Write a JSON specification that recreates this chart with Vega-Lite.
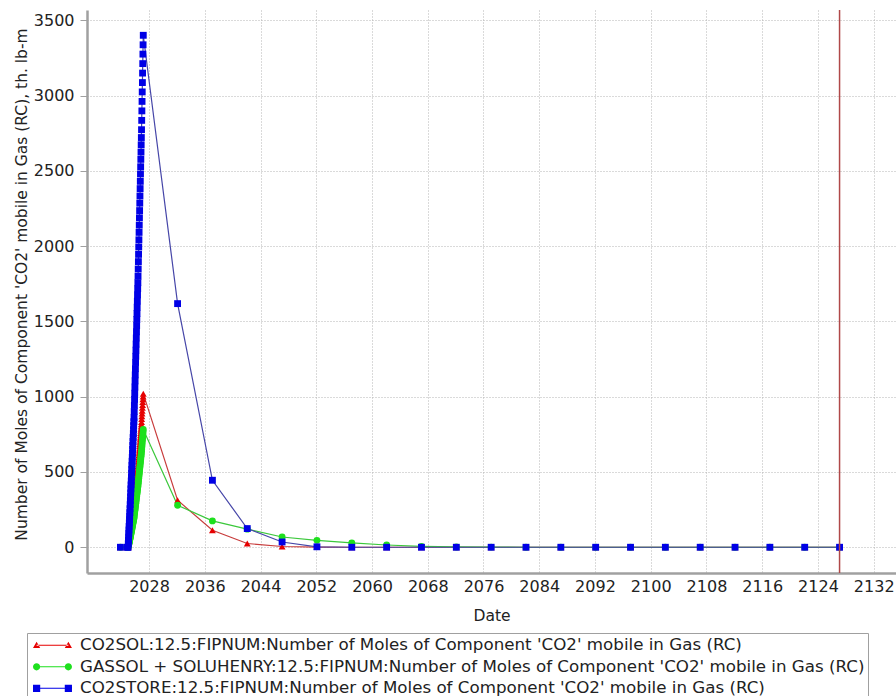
{
  "$schema": "https://vega.github.io/schema/vega-lite/v6.json",
  "width": 809,
  "height": 563,
  "autosize": {"type": "none"},
  "padding": {"left": 87, "top": 10, "right": 0, "bottom": 123},
  "background": "white",
  "config": {
    "view": {"stroke": null},
    "font": "DejaVu Sans",
    "axis": {
      "grid": true,
      "gridColor": "#b4b4b4",
      "gridDash": [1, 2],
      "gridWidth": 1,
      "domainColor": "#a0a0a0",
      "domainWidth": 2.5,
      "tickColor": "#a0a0a0",
      "labelFont": "DejaVu Sans",
      "labelFontSize": 16,
      "labelColor": "#222222",
      "titleFont": "DejaVu Sans",
      "titleFontSize": 15.5,
      "titleFontWeight": "normal",
      "titleColor": "#222222"
    }
  },
  "datasets": {
    "series": [
      {"s": "CO2SOL", "t": 2023.9, "v": 0},
      {"s": "CO2SOL", "t": 2024.9, "v": 0},
      {"s": "CO2SOL", "t": 2025.0, "v": 0},
      {"s": "CO2SOL", "t": 2025.025, "v": 7},
      {"s": "CO2SOL", "t": 2025.05, "v": 14},
      {"s": "CO2SOL", "t": 2025.075, "v": 21},
      {"s": "CO2SOL", "t": 2025.1, "v": 28},
      {"s": "CO2SOL", "t": 2025.125, "v": 35},
      {"s": "CO2SOL", "t": 2025.15, "v": 41},
      {"s": "CO2SOL", "t": 2025.175, "v": 48},
      {"s": "CO2SOL", "t": 2025.2, "v": 55},
      {"s": "CO2SOL", "t": 2025.225, "v": 62},
      {"s": "CO2SOL", "t": 2025.25, "v": 69},
      {"s": "CO2SOL", "t": 2025.275, "v": 77},
      {"s": "CO2SOL", "t": 2025.3, "v": 85},
      {"s": "CO2SOL", "t": 2025.325, "v": 93},
      {"s": "CO2SOL", "t": 2025.35, "v": 101},
      {"s": "CO2SOL", "t": 2025.375, "v": 108},
      {"s": "CO2SOL", "t": 2025.4, "v": 116},
      {"s": "CO2SOL", "t": 2025.425, "v": 124},
      {"s": "CO2SOL", "t": 2025.45, "v": 132},
      {"s": "CO2SOL", "t": 2025.475, "v": 140},
      {"s": "CO2SOL", "t": 2025.5, "v": 148},
      {"s": "CO2SOL", "t": 2025.525, "v": 156},
      {"s": "CO2SOL", "t": 2025.55, "v": 164},
      {"s": "CO2SOL", "t": 2025.575, "v": 171},
      {"s": "CO2SOL", "t": 2025.6, "v": 179},
      {"s": "CO2SOL", "t": 2025.625, "v": 187},
      {"s": "CO2SOL", "t": 2025.65, "v": 195},
      {"s": "CO2SOL", "t": 2025.675, "v": 203},
      {"s": "CO2SOL", "t": 2025.7, "v": 211},
      {"s": "CO2SOL", "t": 2025.725, "v": 219},
      {"s": "CO2SOL", "t": 2025.75, "v": 227},
      {"s": "CO2SOL", "t": 2025.775, "v": 234},
      {"s": "CO2SOL", "t": 2025.8, "v": 242},
      {"s": "CO2SOL", "t": 2025.825, "v": 250},
      {"s": "CO2SOL", "t": 2025.85, "v": 258},
      {"s": "CO2SOL", "t": 2025.875, "v": 270},
      {"s": "CO2SOL", "t": 2025.9, "v": 283},
      {"s": "CO2SOL", "t": 2025.925, "v": 295},
      {"s": "CO2SOL", "t": 2025.95, "v": 307},
      {"s": "CO2SOL", "t": 2025.975, "v": 319},
      {"s": "CO2SOL", "t": 2026.0, "v": 332},
      {"s": "CO2SOL", "t": 2026.025, "v": 344},
      {"s": "CO2SOL", "t": 2026.05, "v": 356},
      {"s": "CO2SOL", "t": 2026.075, "v": 368},
      {"s": "CO2SOL", "t": 2026.1, "v": 380},
      {"s": "CO2SOL", "t": 2026.125, "v": 393},
      {"s": "CO2SOL", "t": 2026.15, "v": 405},
      {"s": "CO2SOL", "t": 2026.175, "v": 417},
      {"s": "CO2SOL", "t": 2026.2, "v": 429},
      {"s": "CO2SOL", "t": 2026.225, "v": 442},
      {"s": "CO2SOL", "t": 2026.25, "v": 454},
      {"s": "CO2SOL", "t": 2026.275, "v": 466},
      {"s": "CO2SOL", "t": 2026.3, "v": 478},
      {"s": "CO2SOL", "t": 2026.325, "v": 491},
      {"s": "CO2SOL", "t": 2026.35, "v": 503},
      {"s": "CO2SOL", "t": 2026.375, "v": 515},
      {"s": "CO2SOL", "t": 2026.4, "v": 527},
      {"s": "CO2SOL", "t": 2026.425, "v": 540},
      {"s": "CO2SOL", "t": 2026.45, "v": 554},
      {"s": "CO2SOL", "t": 2026.475, "v": 569},
      {"s": "CO2SOL", "t": 2026.5, "v": 584},
      {"s": "CO2SOL", "t": 2026.525, "v": 598},
      {"s": "CO2SOL", "t": 2026.55, "v": 613},
      {"s": "CO2SOL", "t": 2026.575, "v": 627},
      {"s": "CO2SOL", "t": 2026.6, "v": 642},
      {"s": "CO2SOL", "t": 2026.625, "v": 656},
      {"s": "CO2SOL", "t": 2026.65, "v": 671},
      {"s": "CO2SOL", "t": 2026.675, "v": 686},
      {"s": "CO2SOL", "t": 2026.7, "v": 700},
      {"s": "CO2SOL", "t": 2026.725, "v": 715},
      {"s": "CO2SOL", "t": 2026.75, "v": 729},
      {"s": "CO2SOL", "t": 2026.775, "v": 744},
      {"s": "CO2SOL", "t": 2026.8, "v": 758},
      {"s": "CO2SOL", "t": 2026.825, "v": 773},
      {"s": "CO2SOL", "t": 2026.85, "v": 787},
      {"s": "CO2SOL", "t": 2026.875, "v": 802},
      {"s": "CO2SOL", "t": 2026.9, "v": 816},
      {"s": "CO2SOL", "t": 2026.925, "v": 832},
      {"s": "CO2SOL", "t": 2026.95, "v": 851},
      {"s": "CO2SOL", "t": 2026.975, "v": 869},
      {"s": "CO2SOL", "t": 2027.0, "v": 888},
      {"s": "CO2SOL", "t": 2027.025, "v": 907},
      {"s": "CO2SOL", "t": 2027.05, "v": 926},
      {"s": "CO2SOL", "t": 2027.075, "v": 945},
      {"s": "CO2SOL", "t": 2027.1, "v": 964},
      {"s": "CO2SOL", "t": 2027.125, "v": 983},
      {"s": "CO2SOL", "t": 2027.15, "v": 1001},
      {"s": "CO2SOL", "t": 2027.175, "v": 1020},
      {"s": "CO2SOL", "t": 2032.1, "v": 312},
      {"s": "CO2SOL", "t": 2037.1, "v": 113},
      {"s": "CO2SOL", "t": 2042.1, "v": 25},
      {"s": "CO2SOL", "t": 2047.1, "v": 5},
      {"s": "CO2SOL", "t": 2052.1, "v": 1},
      {"s": "CO2SOL", "t": 2057.1, "v": 0},
      {"s": "CO2SOL", "t": 2062.1, "v": 0},
      {"s": "CO2SOL", "t": 2067.1, "v": 0},
      {"s": "CO2SOL", "t": 2072.1, "v": 0},
      {"s": "CO2SOL", "t": 2077.1, "v": 0},
      {"s": "CO2SOL", "t": 2082.1, "v": 0},
      {"s": "CO2SOL", "t": 2087.1, "v": 0},
      {"s": "CO2SOL", "t": 2092.1, "v": 0},
      {"s": "CO2SOL", "t": 2097.1, "v": 0},
      {"s": "CO2SOL", "t": 2102.1, "v": 0},
      {"s": "CO2SOL", "t": 2107.1, "v": 0},
      {"s": "CO2SOL", "t": 2112.1, "v": 0},
      {"s": "CO2SOL", "t": 2117.1, "v": 0},
      {"s": "CO2SOL", "t": 2122.1, "v": 0},
      {"s": "CO2SOL", "t": 2127.1, "v": 0},
      {"s": "GASSOL", "t": 2023.9, "v": 0},
      {"s": "GASSOL", "t": 2024.9, "v": 0},
      {"s": "GASSOL", "t": 2025.0, "v": 0},
      {"s": "GASSOL", "t": 2025.025, "v": 5},
      {"s": "GASSOL", "t": 2025.05, "v": 11},
      {"s": "GASSOL", "t": 2025.075, "v": 16},
      {"s": "GASSOL", "t": 2025.1, "v": 21},
      {"s": "GASSOL", "t": 2025.125, "v": 26},
      {"s": "GASSOL", "t": 2025.15, "v": 32},
      {"s": "GASSOL", "t": 2025.175, "v": 37},
      {"s": "GASSOL", "t": 2025.2, "v": 42},
      {"s": "GASSOL", "t": 2025.225, "v": 48},
      {"s": "GASSOL", "t": 2025.25, "v": 53},
      {"s": "GASSOL", "t": 2025.275, "v": 59},
      {"s": "GASSOL", "t": 2025.3, "v": 65},
      {"s": "GASSOL", "t": 2025.325, "v": 71},
      {"s": "GASSOL", "t": 2025.35, "v": 77},
      {"s": "GASSOL", "t": 2025.375, "v": 83},
      {"s": "GASSOL", "t": 2025.4, "v": 89},
      {"s": "GASSOL", "t": 2025.425, "v": 95},
      {"s": "GASSOL", "t": 2025.45, "v": 101},
      {"s": "GASSOL", "t": 2025.475, "v": 107},
      {"s": "GASSOL", "t": 2025.5, "v": 113},
      {"s": "GASSOL", "t": 2025.525, "v": 119},
      {"s": "GASSOL", "t": 2025.55, "v": 125},
      {"s": "GASSOL", "t": 2025.575, "v": 131},
      {"s": "GASSOL", "t": 2025.6, "v": 138},
      {"s": "GASSOL", "t": 2025.625, "v": 144},
      {"s": "GASSOL", "t": 2025.65, "v": 150},
      {"s": "GASSOL", "t": 2025.675, "v": 155},
      {"s": "GASSOL", "t": 2025.7, "v": 162},
      {"s": "GASSOL", "t": 2025.725, "v": 168},
      {"s": "GASSOL", "t": 2025.75, "v": 174},
      {"s": "GASSOL", "t": 2025.775, "v": 180},
      {"s": "GASSOL", "t": 2025.8, "v": 186},
      {"s": "GASSOL", "t": 2025.825, "v": 192},
      {"s": "GASSOL", "t": 2025.85, "v": 198},
      {"s": "GASSOL", "t": 2025.875, "v": 207},
      {"s": "GASSOL", "t": 2025.9, "v": 217},
      {"s": "GASSOL", "t": 2025.925, "v": 226},
      {"s": "GASSOL", "t": 2025.95, "v": 235},
      {"s": "GASSOL", "t": 2025.975, "v": 245},
      {"s": "GASSOL", "t": 2026.0, "v": 254},
      {"s": "GASSOL", "t": 2026.025, "v": 263},
      {"s": "GASSOL", "t": 2026.05, "v": 273},
      {"s": "GASSOL", "t": 2026.075, "v": 282},
      {"s": "GASSOL", "t": 2026.1, "v": 292},
      {"s": "GASSOL", "t": 2026.125, "v": 301},
      {"s": "GASSOL", "t": 2026.15, "v": 310},
      {"s": "GASSOL", "t": 2026.175, "v": 320},
      {"s": "GASSOL", "t": 2026.2, "v": 329},
      {"s": "GASSOL", "t": 2026.225, "v": 339},
      {"s": "GASSOL", "t": 2026.25, "v": 348},
      {"s": "GASSOL", "t": 2026.275, "v": 357},
      {"s": "GASSOL", "t": 2026.3, "v": 367},
      {"s": "GASSOL", "t": 2026.325, "v": 376},
      {"s": "GASSOL", "t": 2026.35, "v": 385},
      {"s": "GASSOL", "t": 2026.375, "v": 395},
      {"s": "GASSOL", "t": 2026.4, "v": 404},
      {"s": "GASSOL", "t": 2026.425, "v": 414},
      {"s": "GASSOL", "t": 2026.45, "v": 425},
      {"s": "GASSOL", "t": 2026.475, "v": 436},
      {"s": "GASSOL", "t": 2026.5, "v": 447},
      {"s": "GASSOL", "t": 2026.525, "v": 459},
      {"s": "GASSOL", "t": 2026.55, "v": 470},
      {"s": "GASSOL", "t": 2026.575, "v": 481},
      {"s": "GASSOL", "t": 2026.6, "v": 492},
      {"s": "GASSOL", "t": 2026.625, "v": 503},
      {"s": "GASSOL", "t": 2026.65, "v": 514},
      {"s": "GASSOL", "t": 2026.675, "v": 526},
      {"s": "GASSOL", "t": 2026.7, "v": 537},
      {"s": "GASSOL", "t": 2026.725, "v": 548},
      {"s": "GASSOL", "t": 2026.75, "v": 559},
      {"s": "GASSOL", "t": 2026.775, "v": 570},
      {"s": "GASSOL", "t": 2026.8, "v": 581},
      {"s": "GASSOL", "t": 2026.825, "v": 592},
      {"s": "GASSOL", "t": 2026.85, "v": 604},
      {"s": "GASSOL", "t": 2026.875, "v": 615},
      {"s": "GASSOL", "t": 2026.9, "v": 626},
      {"s": "GASSOL", "t": 2026.925, "v": 638},
      {"s": "GASSOL", "t": 2026.95, "v": 652},
      {"s": "GASSOL", "t": 2026.975, "v": 667},
      {"s": "GASSOL", "t": 2027.0, "v": 681},
      {"s": "GASSOL", "t": 2027.025, "v": 696},
      {"s": "GASSOL", "t": 2027.05, "v": 710},
      {"s": "GASSOL", "t": 2027.075, "v": 724},
      {"s": "GASSOL", "t": 2027.1, "v": 739},
      {"s": "GASSOL", "t": 2027.125, "v": 753},
      {"s": "GASSOL", "t": 2027.15, "v": 767},
      {"s": "GASSOL", "t": 2027.175, "v": 782},
      {"s": "GASSOL", "t": 2032.1, "v": 279},
      {"s": "GASSOL", "t": 2037.1, "v": 175},
      {"s": "GASSOL", "t": 2042.1, "v": 120},
      {"s": "GASSOL", "t": 2047.1, "v": 68},
      {"s": "GASSOL", "t": 2052.1, "v": 46},
      {"s": "GASSOL", "t": 2057.1, "v": 29},
      {"s": "GASSOL", "t": 2062.1, "v": 15},
      {"s": "GASSOL", "t": 2067.1, "v": 6},
      {"s": "GASSOL", "t": 2072.1, "v": 2},
      {"s": "GASSOL", "t": 2077.1, "v": 1},
      {"s": "GASSOL", "t": 2082.1, "v": 0},
      {"s": "GASSOL", "t": 2087.1, "v": 0},
      {"s": "GASSOL", "t": 2092.1, "v": 0},
      {"s": "GASSOL", "t": 2097.1, "v": 0},
      {"s": "GASSOL", "t": 2102.1, "v": 0},
      {"s": "GASSOL", "t": 2107.1, "v": 0},
      {"s": "GASSOL", "t": 2112.1, "v": 0},
      {"s": "GASSOL", "t": 2117.1, "v": 0},
      {"s": "GASSOL", "t": 2122.1, "v": 0},
      {"s": "GASSOL", "t": 2127.1, "v": 0},
      {"s": "CO2STORE", "t": 2023.9, "v": 0},
      {"s": "CO2STORE", "t": 2024.9, "v": 0},
      {"s": "CO2STORE", "t": 2025.0, "v": 0},
      {"s": "CO2STORE", "t": 2025.025, "v": 23},
      {"s": "CO2STORE", "t": 2025.05, "v": 46},
      {"s": "CO2STORE", "t": 2025.075, "v": 69},
      {"s": "CO2STORE", "t": 2025.1, "v": 92},
      {"s": "CO2STORE", "t": 2025.125, "v": 115},
      {"s": "CO2STORE", "t": 2025.15, "v": 138},
      {"s": "CO2STORE", "t": 2025.175, "v": 161},
      {"s": "CO2STORE", "t": 2025.2, "v": 184},
      {"s": "CO2STORE", "t": 2025.225, "v": 207},
      {"s": "CO2STORE", "t": 2025.25, "v": 230},
      {"s": "CO2STORE", "t": 2025.275, "v": 256},
      {"s": "CO2STORE", "t": 2025.3, "v": 283},
      {"s": "CO2STORE", "t": 2025.325, "v": 309},
      {"s": "CO2STORE", "t": 2025.35, "v": 335},
      {"s": "CO2STORE", "t": 2025.375, "v": 361},
      {"s": "CO2STORE", "t": 2025.4, "v": 388},
      {"s": "CO2STORE", "t": 2025.425, "v": 414},
      {"s": "CO2STORE", "t": 2025.45, "v": 440},
      {"s": "CO2STORE", "t": 2025.475, "v": 466},
      {"s": "CO2STORE", "t": 2025.5, "v": 493},
      {"s": "CO2STORE", "t": 2025.525, "v": 519},
      {"s": "CO2STORE", "t": 2025.55, "v": 545},
      {"s": "CO2STORE", "t": 2025.575, "v": 571},
      {"s": "CO2STORE", "t": 2025.6, "v": 598},
      {"s": "CO2STORE", "t": 2025.625, "v": 624},
      {"s": "CO2STORE", "t": 2025.65, "v": 650},
      {"s": "CO2STORE", "t": 2025.675, "v": 676},
      {"s": "CO2STORE", "t": 2025.7, "v": 703},
      {"s": "CO2STORE", "t": 2025.725, "v": 729},
      {"s": "CO2STORE", "t": 2025.75, "v": 755},
      {"s": "CO2STORE", "t": 2025.775, "v": 781},
      {"s": "CO2STORE", "t": 2025.8, "v": 808},
      {"s": "CO2STORE", "t": 2025.825, "v": 834},
      {"s": "CO2STORE", "t": 2025.85, "v": 860},
      {"s": "CO2STORE", "t": 2025.875, "v": 901},
      {"s": "CO2STORE", "t": 2025.9, "v": 942},
      {"s": "CO2STORE", "t": 2025.925, "v": 982},
      {"s": "CO2STORE", "t": 2025.95, "v": 1023},
      {"s": "CO2STORE", "t": 2025.975, "v": 1064},
      {"s": "CO2STORE", "t": 2026.0, "v": 1105},
      {"s": "CO2STORE", "t": 2026.025, "v": 1145},
      {"s": "CO2STORE", "t": 2026.05, "v": 1186},
      {"s": "CO2STORE", "t": 2026.075, "v": 1227},
      {"s": "CO2STORE", "t": 2026.1, "v": 1268},
      {"s": "CO2STORE", "t": 2026.125, "v": 1309},
      {"s": "CO2STORE", "t": 2026.15, "v": 1349},
      {"s": "CO2STORE", "t": 2026.175, "v": 1390},
      {"s": "CO2STORE", "t": 2026.2, "v": 1431},
      {"s": "CO2STORE", "t": 2026.225, "v": 1472},
      {"s": "CO2STORE", "t": 2026.25, "v": 1513},
      {"s": "CO2STORE", "t": 2026.275, "v": 1553},
      {"s": "CO2STORE", "t": 2026.3, "v": 1594},
      {"s": "CO2STORE", "t": 2026.325, "v": 1635},
      {"s": "CO2STORE", "t": 2026.35, "v": 1676},
      {"s": "CO2STORE", "t": 2026.375, "v": 1717},
      {"s": "CO2STORE", "t": 2026.4, "v": 1757},
      {"s": "CO2STORE", "t": 2026.425, "v": 1800},
      {"s": "CO2STORE", "t": 2026.45, "v": 1848},
      {"s": "CO2STORE", "t": 2026.475, "v": 1897},
      {"s": "CO2STORE", "t": 2026.5, "v": 1945},
      {"s": "CO2STORE", "t": 2026.525, "v": 1994},
      {"s": "CO2STORE", "t": 2026.55, "v": 2042},
      {"s": "CO2STORE", "t": 2026.575, "v": 2091},
      {"s": "CO2STORE", "t": 2026.6, "v": 2139},
      {"s": "CO2STORE", "t": 2026.625, "v": 2188},
      {"s": "CO2STORE", "t": 2026.65, "v": 2236},
      {"s": "CO2STORE", "t": 2026.675, "v": 2285},
      {"s": "CO2STORE", "t": 2026.7, "v": 2333},
      {"s": "CO2STORE", "t": 2026.725, "v": 2382},
      {"s": "CO2STORE", "t": 2026.75, "v": 2430},
      {"s": "CO2STORE", "t": 2026.775, "v": 2479},
      {"s": "CO2STORE", "t": 2026.8, "v": 2527},
      {"s": "CO2STORE", "t": 2026.825, "v": 2576},
      {"s": "CO2STORE", "t": 2026.85, "v": 2624},
      {"s": "CO2STORE", "t": 2026.875, "v": 2673},
      {"s": "CO2STORE", "t": 2026.9, "v": 2721},
      {"s": "CO2STORE", "t": 2026.925, "v": 2773},
      {"s": "CO2STORE", "t": 2026.95, "v": 2835},
      {"s": "CO2STORE", "t": 2026.975, "v": 2898},
      {"s": "CO2STORE", "t": 2027.0, "v": 2961},
      {"s": "CO2STORE", "t": 2027.025, "v": 3024},
      {"s": "CO2STORE", "t": 2027.05, "v": 3086},
      {"s": "CO2STORE", "t": 2027.075, "v": 3149},
      {"s": "CO2STORE", "t": 2027.1, "v": 3212},
      {"s": "CO2STORE", "t": 2027.125, "v": 3275},
      {"s": "CO2STORE", "t": 2027.15, "v": 3337},
      {"s": "CO2STORE", "t": 2027.175, "v": 3400},
      {"s": "CO2STORE", "t": 2032.1, "v": 1618},
      {"s": "CO2STORE", "t": 2037.1, "v": 445},
      {"s": "CO2STORE", "t": 2042.1, "v": 124},
      {"s": "CO2STORE", "t": 2047.1, "v": 35},
      {"s": "CO2STORE", "t": 2052.1, "v": 3},
      {"s": "CO2STORE", "t": 2057.1, "v": 0},
      {"s": "CO2STORE", "t": 2062.1, "v": 0},
      {"s": "CO2STORE", "t": 2067.1, "v": 0},
      {"s": "CO2STORE", "t": 2072.1, "v": 0},
      {"s": "CO2STORE", "t": 2077.1, "v": 0},
      {"s": "CO2STORE", "t": 2082.1, "v": 0},
      {"s": "CO2STORE", "t": 2087.1, "v": 0},
      {"s": "CO2STORE", "t": 2092.1, "v": 0},
      {"s": "CO2STORE", "t": 2097.1, "v": 0},
      {"s": "CO2STORE", "t": 2102.1, "v": 0},
      {"s": "CO2STORE", "t": 2107.1, "v": 0},
      {"s": "CO2STORE", "t": 2112.1, "v": 0},
      {"s": "CO2STORE", "t": 2117.1, "v": 0},
      {"s": "CO2STORE", "t": 2122.1, "v": 0},
      {"s": "CO2STORE", "t": 2127.1, "v": 0}
    ],
    "marker": [{"t": 2127.1}]
  },
  "encoding": {
    "x": {
      "field": "t",
      "type": "quantitative",
      "scale": {"domain": [2019.1, 2135.2], "nice": false, "zero": false},
      "axis": {
        "title": "Date",
        "values": [2028, 2036, 2044, 2052, 2060, 2068, 2076, 2084, 2092, 2100, 2108, 2116, 2124, 2132],
        "format": "d",
        "ticks": false,
        "labelPadding": 5,
        "titlePadding": 14
      }
    },
    "y": {
      "field": "v",
      "type": "quantitative",
      "scale": {"domain": [-171, 3568], "nice": false, "zero": false},
      "axis": {
        "title": "Number of Moles of Component 'CO2' mobile in Gas (RC), th. lb-m",
        "values": [0, 500, 1000, 1500, 2000, 2500, 3000, 3500],
        "format": "d",
        "tickSize": 7,
        "labelPadding": 6,
        "titlePadding": 4,
        "titleY": 274
      }
    }
  },
  "layer": [
    {
      "data": {"name": "series"},
      "mark": {"type": "line", "strokeWidth": 1.2},
      "encoding": {
        "color": {
          "field": "s",
          "type": "nominal",
          "scale": {"domain": ["CO2SOL", "GASSOL", "CO2STORE"], "range": ["#c83c3c", "#3cc83c", "#4646a8"]},
          "legend": null
        }
      }
    },
    {
      "data": {"name": "series"},
      "mark": {"type": "point", "filled": true, "opacity": 1, "size": 47},
      "encoding": {
        "color": {
          "field": "s",
          "type": "nominal",
          "scale": {"domain": ["CO2SOL", "GASSOL", "CO2STORE"], "range": ["#e60000", "#1ee01e", "#0000e6"]},
          "legend": {
            "title": null,
            "orient": "none",
            "legendX": -60,
            "legendY": 623,
            "direction": "vertical",
            "labelLimit": 0,
            "labelFont": "DejaVu Sans",
            "labelFontSize": 16.7,
            "labelColor": "#222222",
            "symbolSize": 324,
            "symbolStrokeWidth": 0,
            "symbolOpacity": 1,
            "labelOffset": 31.7,
            "rowPadding": 3.5,
            "padding": 3.3,
            "strokeColor": "#a0a0a0",
            "fillColor": "white",
            "labelExpr": "datum.value === 'CO2SOL' ? \"CO2SOL:12.5:FIPNUM:Number of Moles of Component 'CO2' mobile in Gas (RC)\" : datum.value === 'GASSOL' ? \"GASSOL + SOLUHENRY:12.5:FIPNUM:Number of Moles of Component 'CO2' mobile in Gas (RC)\" : \"CO2STORE:12.5:FIPNUM:Number of Moles of Component 'CO2' mobile in Gas (RC)\"",
            "encode": {
              "symbols": {
                "update": {
                  "shape": {"signal": "datum.value === 'CO2SOL' ? 'M-0.3,-0.06L3.23,-0.06L3.23,0.06L-0.3,0.06Z M-0.7,0.3L0.1,0.3L-0.3,-0.4Z M2.83,0.3L3.63,0.3L3.23,-0.4Z' : datum.value === 'GASSOL' ? 'M-0.3,-0.06L3.23,-0.06L3.23,0.06L-0.3,0.06Z M0.1,0A0.4,0.4 0 1,1 -0.7,0A0.4,0.4 0 1,1 0.1,0Z M3.63,0A0.4,0.4 0 1,1 2.83,0A0.4,0.4 0 1,1 3.63,0Z' : 'M-0.3,-0.06L3.23,-0.06L3.23,0.06L-0.3,0.06Z M-0.7,-0.4L0.1,-0.4L0.1,0.4L-0.7,0.4Z M2.83,-0.4L3.63,-0.4L3.63,0.4L2.83,0.4Z'"}
                }
              }
            }
          }
        },
        "shape": {
          "field": "s",
          "type": "nominal",
          "scale": {"domain": ["CO2SOL", "GASSOL", "CO2STORE"], "range": ["triangle-up", "circle", "square"]},
          "legend": null
        }
      }
    },
    {
      "data": {"name": "marker"},
      "mark": {"type": "rule", "color": "#b04848", "strokeWidth": 1.5},
      "encoding": {
        "x": {"field": "t", "type": "quantitative"},
        "y": null
      }
    }
  ],
  "resolve": {"scale": {"color": "independent"}}
}
